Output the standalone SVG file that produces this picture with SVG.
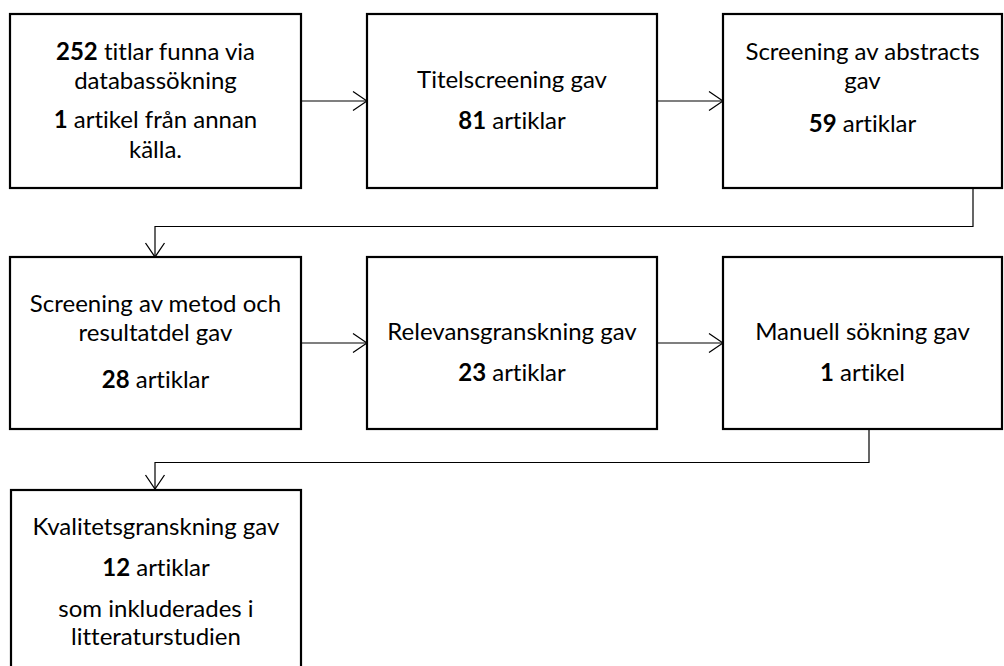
<svg xmlns="http://www.w3.org/2000/svg" width="1004" height="666" viewBox="0 0 1004 666">
<style>
.box{fill:#fff;stroke:#000;stroke-width:2.2}
.t{font-family:Lato,"Open Sans","Liberation Sans",sans-serif;font-size:24px;fill:#000;text-anchor:middle;font-variant-ligatures:none}
.b{font-weight:bold}
.c{fill:none;stroke:#000;stroke-width:1.2}
</style>
<defs>
<marker id="ah" markerWidth="16" markerHeight="22" refX="15" refY="11" orient="auto" markerUnits="userSpaceOnUse">
<path d="M1,1.5 L15,11 L1,20.5" fill="none" stroke="#000" stroke-width="1.3"/>
</marker>
</defs>
<g id="connectors">
<path class="c" d="M301,101 H367" marker-end="url(#ah)"/>
<path class="c" d="M657,101 H723" marker-end="url(#ah)"/>
<path class="c" d="M973,189 V226.5 H155 V257" marker-end="url(#ah)"/>
<path class="c" d="M301,343 H367" marker-end="url(#ah)"/>
<path class="c" d="M657,343 H723" marker-end="url(#ah)"/>
<path class="c" d="M869,430 V462.5 H155 V489" marker-end="url(#ah)"/>
</g>
<g id="n1">
<rect class="box" x="10" y="14" width="291" height="174"/>
<text class="t" x="155.5" y="60"><tspan class="b">252</tspan> titlar funna via</text>
<text class="t" x="155.5" y="89">databassökning</text>
<text class="t" x="155.5" y="128"><tspan class="b">1</tspan> artikel från annan</text>
<text class="t" x="155.5" y="158">källa.</text>
</g>
<g id="n2">
<rect class="box" x="367" y="14" width="290" height="174"/>
<text class="t" x="512" y="88">Titelscreening gav</text>
<text class="t" x="512" y="129"><tspan class="b">81</tspan> artiklar</text>
</g>
<g id="n3">
<rect class="box" x="723" y="14" width="279" height="174"/>
<text class="t" x="862.5" y="60">Screening av abstracts</text>
<text class="t" x="862.5" y="89">gav</text>
<text class="t" x="862.5" y="132"><tspan class="b">59</tspan> artiklar</text>
</g>
<g id="n4">
<rect class="box" x="10" y="257" width="291" height="172"/>
<text class="t" x="155.5" y="312">Screening av metod och</text>
<text class="t" x="155.5" y="341">resultatdel gav</text>
<text class="t" x="155.5" y="388"><tspan class="b">28</tspan> artiklar</text>
</g>
<g id="n5">
<rect class="box" x="367" y="257" width="290" height="172"/>
<text class="t" x="512" y="340">Relevansgranskning gav</text>
<text class="t" x="512" y="381"><tspan class="b">23</tspan> artiklar</text>
</g>
<g id="n6">
<rect class="box" x="723" y="257" width="279" height="172"/>
<text class="t" x="862.5" y="340">Manuell sökning gav</text>
<text class="t" x="862.5" y="381"><tspan class="b">1</tspan> artikel</text>
</g>
<g id="n7">
<rect class="box" x="11" y="490" width="290" height="190"/>
<text class="t" x="156" y="535">Kvalitetsgranskning gav</text>
<text class="t" x="156" y="576"><tspan class="b">12</tspan> artiklar</text>
<text class="t" x="156" y="617">som inkluderades i</text>
<text class="t" x="156" y="645">litteraturstudien</text>
</g>
</svg>
